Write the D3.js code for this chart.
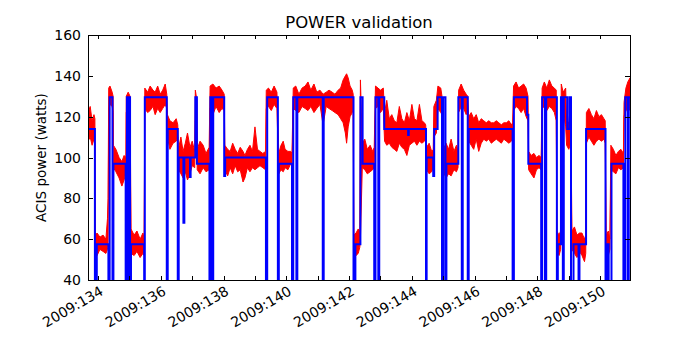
<!DOCTYPE html>
<html>
<head>
<meta charset="utf-8">
<script src="https://cdn.jsdelivr.net/npm/d3@7"></script>
<style>
  body { margin: 0; background: #fff; }
  svg { display: block; font-family: "DejaVu Sans", sans-serif; }
</style>
</head>
<body>
<svg id="chart"></svg>
<script>
// model (blue step): day of 2009, power in watts
var modelT = [133.68, 133.90, 133.96, 134.33, 134.37, 134.46, 134.49, 134.88, 134.92, 134.97,
  135.00, 135.02, 135.05, 135.47, 135.49, 136.19, 136.22, 136.54, 136.57, 136.72,
  136.75, 136.93, 136.95, 137.10, 137.15, 137.55, 137.58, 137.64, 137.67, 138.02,
  138.05, 139.35, 139.39, 139.73, 139.76, 140.18, 140.22, 140.32, 140.35, 141.16,
  141.19, 142.14, 142.20, 142.36, 142.43, 142.80, 142.84, 142.93, 142.96, 143.12,
  143.88, 143.90, 144.45, 144.47, 144.68, 144.71, 144.82, 144.96, 145.00, 145.07,
  145.10, 145.48, 145.59, 145.62, 145.78, 145.81, 147.21, 147.25, 147.67, 147.71,
  148.12, 148.15, 148.24, 148.28, 148.62, 148.65, 148.75, 148.81, 148.84, 148.95,
  149.02, 149.07, 149.15, 149.31, 149.34, 149.55, 150.17, 150.21, 150.27, 150.36,
  150.74, 150.80, 150.88, 150.91, 150.95];
var modelP = [114, 0, 57.5, 0, 129.5, 0, 97, 0, 129.5, 0,
  129.5, 0, 57.5, 0, 129.5, 0, 114, 0, 100, 68,
  100, 90.5, 100, 129.5, 97, 0, 129.5, 0, 129.5, 91,
  100, 0, 129.5, 0, 97, 0, 129.5, 0, 129.5, 0,
  129.5, 0, 57.5, 129.5, 97, 0, 129.5, 0, 129.5, 114,
  111, 114, 0, 100, 91, 114, 129.5, 0, 129.5, 0,
  97, 129.5, 0, 129.5, 0, 114, 0, 129.5, 121, 97,
  0, 129.5, 0, 129.5, 0, 57.5, 129.5, 0, 129.5, 114,
  129.5, 0, 57.5, 0, 57.5, 114, 0, 57.5, 0, 97,
  0, 129.5, 0, 129.5, 129.5];

// telemetry (red): envelope of the noisy trace
var telemT = [133.68, 133.75, 133.81, 133.87, 133.90, 133.91, 133.97, 134.06, 134.16, 134.25, 134.30, 134.32,
  134.34, 134.38, 134.45, 134.48,
  134.49, 134.57, 134.67, 134.76, 134.83, 134.89,
  134.90, 134.96, 135.02,
  135.05, 135.15, 135.24, 135.34, 135.43, 135.47,
  135.49, 135.58, 135.66, 135.75, 135.82, 135.90, 135.98, 136.06, 136.14, 136.19,
  136.21, 136.29, 136.39, 136.49, 136.54,
  136.56, 136.64, 136.71, 136.78, 136.85, 136.93, 137.00, 137.08,
  137.10, 137.15,
  137.16, 137.25, 137.35, 137.44, 137.54,
  137.57, 137.66, 137.76, 137.86, 137.95, 138.02,
  138.04, 138.13, 138.21, 138.29, 138.37, 138.45, 138.53, 138.62, 138.68, 138.76, 138.84, 138.92, 139.00, 139.08, 139.16, 139.25, 139.34,
  139.36, 139.43, 139.52, 139.61, 139.70,
  139.76, 139.83, 139.90, 139.96, 140.05, 140.14, 140.18,
  140.22, 140.30, 140.40, 140.50, 140.60, 140.69, 140.78, 140.88, 140.97, 141.07, 141.17, 141.27, 141.36, 141.46, 141.55, 141.65, 141.73, 141.81, 141.88, 141.92, 141.97, 142.03, 142.10, 142.13,
  142.15, 142.22, 142.29, 142.34, 142.36,
  142.42, 142.50, 142.58, 142.67, 142.75, 142.80,
  142.84, 142.92, 143.00, 143.09,
  143.13, 143.20, 143.28, 143.36, 143.44, 143.52, 143.60, 143.68, 143.76, 143.84, 143.92, 144.00, 144.08, 144.16, 144.24, 144.32, 144.40, 144.44,
  144.47, 144.55, 144.63, 144.68,
  144.70, 144.78,
  144.83, 144.92, 144.96,
  145.00, 145.09, 145.17, 145.25, 145.34, 145.42, 145.47,
  145.49, 145.57, 145.65, 145.73, 145.78,
  145.81, 145.89, 145.97, 146.05, 146.13, 146.21, 146.29, 146.37, 146.45, 146.53, 146.61, 146.69, 146.77, 146.85, 146.93, 147.01, 147.09, 147.17, 147.21,
  147.24, 147.32, 147.40, 147.48, 147.56, 147.64, 147.70,
  147.72, 147.80, 147.89, 147.97, 148.05, 148.12,
  148.15, 148.22, 148.30, 148.38, 148.46, 148.54, 148.60,
  148.62, 148.69, 148.74,
  148.76, 148.82, 148.90,
  148.93, 149.00, 149.06,
  149.10, 149.18, 149.26, 149.34, 149.42, 149.50, 149.54,
  149.56, 149.64, 149.72, 149.80, 149.88, 149.96, 150.04, 150.12, 150.16,
  150.19, 150.26, 150.31,
  150.34, 150.42, 150.50, 150.58, 150.66, 150.74,
  150.76, 150.82, 150.88, 150.95];
var telemLo = [108, 110, 106, 109, 107, 54, 52, 55, 54, 53, 55, 57,
  124, 126, 125, 122,
  95, 93, 90, 86, 89, 93,
  122, 125, 118,
  53, 52, 54, 51, 53, 52,
  124, 122, 123, 125, 121, 124, 122, 124, 126, 124,
  110, 104, 107, 108, 110,
  94, 92, 90, 93, 89, 92, 96, 95,
  118, 112,
  94, 92, 95, 93, 94,
  124, 121, 125, 122, 124, 123,
  94, 91, 95, 92, 96, 93, 94, 88, 90, 95, 93, 95, 94, 95, 96, 95, 94,
  124, 125, 123, 126, 124,
  92, 94, 93, 95, 94, 97, 96,
  124, 123, 122, 125, 124, 123, 125, 122, 124, 126, 116, 125, 124, 123, 122, 121, 119, 117, 112, 107, 115, 120, 122, 124,
  54, 52, 53, 56, 60,
  95, 94, 92, 93, 94, 95,
  124, 125, 122, 124,
  108, 106, 107, 105, 104, 103, 107, 105, 104, 101, 106, 107, 108, 106, 108, 107, 108, 109,
  94, 92, 93, 95,
  110, 112,
  124, 122, 121,
  93, 90, 92, 91, 94, 93, 95,
  122, 125, 124, 121, 123,
  108, 106, 104, 109, 103, 107, 109, 108, 109, 107, 108, 109, 108, 107, 109, 108, 107, 108, 109,
  123, 125, 124, 122, 124, 120, 118,
  94, 92, 90, 94, 95, 94,
  124, 125, 123, 125, 124, 122, 118,
  54, 52, 55,
  125, 122, 115,
  106, 104, 107,
  55, 53, 51, 54, 52, 49, 53,
  107, 110, 108, 106, 108, 109, 108, 109, 107,
  54, 52, 55,
  94, 93, 92, 95, 94, 95,
  120, 124, 122, 124];
var telemHi = [122, 125, 118, 121, 119, 62, 63, 61, 62, 60, 70, 80,
  134, 135, 132, 130,
  106, 104, 100, 98, 101, 100,
  130, 132, 130,
  65, 62, 64, 60, 63, 60,
  134, 132, 135, 133, 132, 135, 131, 133, 136, 131,
  121, 118, 117, 119, 116,
  104, 110, 103, 107, 112, 105, 108, 103,
  133, 128,
  104, 108, 106, 102, 105,
  135, 136, 134, 135, 133, 131,
  106, 104, 103, 107, 104, 102, 105, 103, 101, 104, 106, 103, 115, 104, 103, 102, 103,
  133, 134, 132, 135, 132,
  102, 106, 108, 104, 103, 103, 102,
  134, 135, 131, 134, 135, 137, 133, 136, 132, 133, 131, 132, 133, 132, 131, 133, 134, 138, 140, 141, 139, 135, 133, 131,
  62, 63, 65, 64, 138,
  107, 109, 104, 106, 103, 105,
  135, 134, 133, 134,
  122, 128, 119, 121, 118, 117, 125, 119, 117, 122, 118, 126, 119, 118, 126, 118, 117, 116,
  105, 107, 103, 104,
  125, 128,
  135, 134, 130,
  104, 107, 104, 109, 103, 106, 103,
  133, 136, 133, 131, 130,
  120, 122, 119, 121, 117, 119, 118, 117, 118, 117, 117, 118, 117, 116, 117, 117, 118, 116, 117,
  135, 137, 134, 135, 136, 134, 130,
  103, 101, 102, 100, 101, 100,
  134, 137, 134, 138, 135, 134, 133,
  64, 62, 64,
  136, 132, 134,
  118, 117, 126,
  64, 66, 62, 63, 63, 60, 62,
  122, 124, 121, 119, 123, 120, 121, 119, 118,
  62, 64, 60,
  106, 104, 101, 103, 104, 102,
  127, 134, 137, 139];

var tickDays = [134, 135, 136, 137, 138, 139, 140, 141, 142, 143, 144, 145, 146, 147, 148, 149, 150];
var labelDays = [134, 136, 138, 140, 142, 144, 146, 148, 150];
var tickLabels = ['2009:134', '2009:136', '2009:138', '2009:140', '2009:142', '2009:144', '2009:146', '2009:148', '2009:150'];
var yTicks = [40, 60, 80, 100, 120, 140, 160];

var margin = { top: 35, right: 70, bottom: 70, left: 88 },
  width = 700 - margin.left - margin.right,
  height = 350 - margin.top - margin.bottom;

var svg = d3.select('#chart').attr('width', 700).attr('height', 350);
var g = svg.append('g').attr('transform', `translate(${margin.left}, ${margin.top})`);

var x = d3.scaleLinear().domain([133.68, 150.95]).range([0, width]);
var y = d3.scaleLinear().domain([40, 160]).range([height, 0]);

g.append('clipPath').attr('id', 'clip')
  .append('rect').attr('width', width).attr('height', height);

var plot = g.append('g').attr('clip-path', 'url(#clip)');

var telem = telemT.map((t, i) => ({ t: t, lo: telemLo[i], hi: telemHi[i] }));
plot.append('path')
  .datum(telem)
  .attr('fill', '#ff0000')
  .attr('stroke', '#ff0000')
  .attr('stroke-width', 1)
  .attr('d', d3.area().x(d => x(d.t)).y0(d => y(d.lo)).y1(d => y(d.hi)));

var model = modelT.map((t, i) => ({ t: t, p: modelP[i] }));
plot.append('path')
  .datum(model)
  .attr('fill', 'none')
  .attr('stroke', '#0000ff')
  .attr('stroke-width', 2)
  .attr('d', d3.line().curve(d3.curveStepAfter).x(d => x(d.t)).y(d => y(d.p)));

// ticks inside on all sides
var tk = g.append('g').attr('stroke', '#000').attr('stroke-width', 1);
tickDays.forEach(function(d) {
  var px = Math.round(x(d)) + 0.5;
  tk.append('line').attr('x1', px).attr('x2', px).attr('y1', height).attr('y2', height - 4);
  tk.append('line').attr('x1', px).attr('x2', px).attr('y1', 0).attr('y2', 4);
});
yTicks.forEach(function(v) {
  var py = Math.round(y(v)) + 0.5;
  tk.append('line').attr('x1', 0).attr('x2', 5).attr('y1', py).attr('y2', py);
  tk.append('line').attr('x1', width).attr('x2', width - 5).attr('y1', py).attr('y2', py);
});

g.append('rect')
  .attr('x', 0.5).attr('y', 0.5)
  .attr('width', width).attr('height', height)
  .attr('fill', 'none').attr('stroke', '#000').attr('stroke-width', 1);

g.selectAll('.ylab').data(yTicks).join('text')
  .attr('class', 'ylab')
  .attr('x', -7)
  .attr('y', d => y(d))
  .attr('dy', '0.36em')
  .attr('text-anchor', 'end')
  .style('font-size', '14px')
  .text(d => d);

g.selectAll('.xlab').data(labelDays).join('text')
  .attr('class', 'xlab')
  .attr('transform', d => `translate(${x(d) + 1}, ${height + 5}) rotate(-30)`)
  .attr('dy', '0.75em')
  .attr('text-anchor', 'end')
  .style('font-size', '14px')
  .text((d, i) => tickLabels[i]);

g.append('text')
  .attr('x', width / 2)
  .attr('y', -7)
  .attr('text-anchor', 'middle')
  .style('font-size', '16.5px')
  .text('POWER validation');

g.append('text')
  .attr('transform', `translate(-42, ${height / 2}) rotate(-90)`)
  .attr('text-anchor', 'middle')
  .style('font-size', '13.5px')
  .text('ACIS power (watts)');
</script>
</body>
</html>
